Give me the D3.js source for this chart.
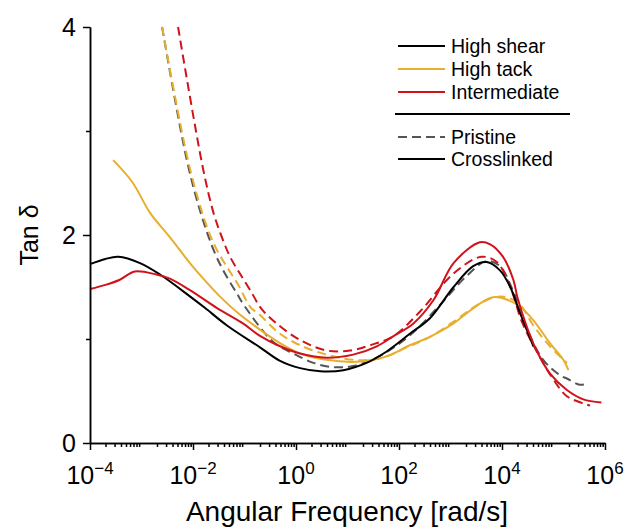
<!DOCTYPE html>
<html>
<head>
<meta charset="utf-8">
<script src="https://cdn.jsdelivr.net/npm/d3@7"></script>
<style>
  body { margin: 0; background: #fff; }
  svg { font-family: 'Liberation Sans', Arial, sans-serif; }
</style>
</head>
<body>
<div id="chart"></div>
<script>
// values: log10 of angular frequency [rad/s], tan delta
var shearCrossLog = [-4, -3.7, -3.45, -3.03, -2.64, -2.06, -1.77, -1.34, -0.7, -0.31, 0.08, 0.47, 0.92, 1.37, 1.76, 2.21, 2.6, 3.06, 3.44, 3.7, 3.96, 4.16, 4.35, 4.61]
var shearCrossTan = [1.72, 1.77, 1.79, 1.73, 1.62, 1.41, 1.30, 1.13, 0.92, 0.79, 0.72, 0.69, 0.70, 0.77, 0.88, 1.05, 1.20, 1.50, 1.70, 1.74, 1.66, 1.50, 1.25, 0.93]

var shearPristLog = [-2.6, -2.12, -1.83, -1.57, -1.38, -1.15, -0.99, -0.44, -0.05, 0.34, 0.72, 1.11, 1.6, 2.2, 2.8, 3.3, 3.7, 3.96, 4.2, 4.5, 4.8, 5.13, 5.26, 5.51, 5.64]
var shearPristTan = [4.0, 2.72, 2.18, 1.82, 1.63, 1.44, 1.31, 0.97, 0.86, 0.77, 0.73, 0.74, 0.83, 1.03, 1.33, 1.60, 1.75, 1.70, 1.48, 1.08, 0.80, 0.65, 0.62, 0.56, 0.57]

var tackCrossLog = [-3.55, -3.18, -2.83, -2.45, -2.06, -1.8, -1.48, -1.15, -0.7, -0.31, 0.08, 0.59, 1.11, 1.5, 1.8, 2.21, 2.6, 3.06, 3.4, 3.8, 4.09, 4.35, 4.61, 4.93, 5.19, 5.29]
var tackCrossTan = [2.72, 2.51, 2.21, 1.98, 1.73, 1.58, 1.41, 1.26, 1.09, 0.96, 0.86, 0.80, 0.78, 0.80, 0.84, 0.94, 1.02, 1.15, 1.28, 1.40, 1.38, 1.31, 1.18, 0.96, 0.80, 0.70]

var tackPristLog = [-2.6, -2.07, -1.73, -1.54, -1.35, -1.12, -0.89, -0.7, -0.31, 0.08, 0.59, 1.11, 1.6, 2.2, 2.6, 3.1, 3.5, 3.85, 4.1, 4.35, 4.61, 4.93, 5.26]
var tackPristTan = [4.0, 2.66, 2.08, 1.86, 1.70, 1.52, 1.31, 1.23, 1.05, 0.94, 0.85, 0.80, 0.81, 0.93, 1.02, 1.18, 1.32, 1.40, 1.40, 1.33, 1.13, 0.93, 0.77]

var interCrossLog = [-4, -3.7, -3.42, -3.13, -2.71, -2.45, -2.06, -1.54, -1.03, -0.7, -0.31, 0.08, 0.59, 1.11, 1.57, 1.9, 2.28, 2.67, 3.06, 3.57, 3.77, 4.02, 4.22, 4.3, 4.48, 4.67, 4.93, 5.26, 5.58, 5.93]
var interCrossTan = [1.48, 1.52, 1.57, 1.65, 1.62, 1.58, 1.47, 1.30, 1.15, 1.03, 0.93, 0.86, 0.82, 0.85, 0.93, 1.03, 1.15, 1.375, 1.73, 1.93, 1.91, 1.79, 1.57, 1.40, 1.12, 0.89, 0.67, 0.51, 0.42, 0.39]

var interPristLog = [-2.29, -1.8, -1.6, -1.44, -1.28, -1.09, -0.89, -0.67, -0.38, 0.08, 0.59, 1.05, 1.44, 1.9, 2.4, 3.06, 3.6, 3.9, 4.16, 4.4, 4.8, 5.0, 5.26, 5.71]
var interPristTan = [4.0, 2.625, 2.21, 1.98, 1.79, 1.63, 1.47, 1.29, 1.15, 0.99, 0.89, 0.89, 0.94, 1.03, 1.26, 1.63, 1.79, 1.74, 1.50, 1.15, 0.77, 0.61, 0.45, 0.36]

var materials = ['High shear', 'High tack', 'Intermediate']
var materialColors = ['#000000', '#E8AE2E', '#D0121B']
var states = ['Pristine', 'Crosslinked']
var xTickExps = [-4, -2, 0, 2, 4, 6]
var yTicks = [0, 2, 4]
var yMinorTicks = [1, 3]

var width = 625
var height = 527

var x = d3.scaleLog().domain([1e-4, 1e6]).range([90, 605])
var y = d3.scaleLinear().domain([0, 4]).range([443, 27])

var svg = d3.select('#chart')
  .append('svg')
  .attr('width', width)
  .attr('height', height)

function zip(lx, ly) {
  return lx.map(function (v, i) { return [Math.pow(10, v), ly[i]] })
}

// dashed = pristine, solid = crosslinked
var series = [
  { pts: zip(shearPristLog, shearPristTan), color: '#555555', dash: '9,5' },
  { pts: zip(tackPristLog, tackPristTan), color: materialColors[1], dash: '9,5' },
  { pts: zip(interPristLog, interPristTan), color: materialColors[2], dash: '9,5' },
  { pts: zip(tackCrossLog, tackCrossTan), color: materialColors[1], dash: null },
  { pts: zip(shearCrossLog, shearCrossTan), color: materialColors[0], dash: null },
  { pts: zip(interCrossLog, interCrossTan), color: materialColors[2], dash: null }
]

var line = d3.line()
  .x(function (d) { return x(d[0]) })
  .y(function (d) { return y(d[1]) })
  .curve(d3.curveCatmullRom.alpha(0.5))

svg.selectAll('.curve')
  .data(series)
  .enter()
  .append('path')
  .attr('class', 'curve')
  .attr('d', function (d) { return line(d.pts) })
  .attr('fill', 'none')
  .attr('stroke', function (d) { return d.color })
  .attr('stroke-width', 2)
  .attr('stroke-dasharray', function (d) { return d.dash })

// x axis: minor ticks then major ticks
var minor = []
for (var e = -4; e < 6; e++) {
  for (var m = 2; m < 10; m++) minor.push(m * Math.pow(10, e))
}
svg.append('g')
  .attr('transform', 'translate(0,443)')
  .call(d3.axisBottom(x).tickValues(minor).tickSize(4).tickFormat('').tickSizeOuter(0))
svg.append('g')
  .attr('transform', 'translate(0,443)')
  .call(d3.axisBottom(x).tickValues(xTickExps.map(function (p) { return Math.pow(10, p) })).tickSize(7).tickFormat('').tickSizeOuter(0))

var xLab = svg.selectAll('.xlab')
  .data(xTickExps)
  .enter()
  .append('text')
  .attr('class', 'xlab')
  .attr('x', function (d) { return x(Math.pow(10, d)) })
  .attr('y', 484)
  .attr('text-anchor', 'middle')
  .attr('font-size', 25)
xLab.append('tspan').text('10')
xLab.append('tspan')
  .attr('dy', -10)
  .attr('font-size', 17)
  .text(function (d) { return d < 0 ? '\u2212' + (-d) : String(d) })

// y axis
svg.append('g')
  .attr('transform', 'translate(90,0)')
  .call(d3.axisLeft(y).tickValues(yMinorTicks).tickSize(4).tickFormat('').tickSizeOuter(0))
svg.append('g')
  .attr('transform', 'translate(90,0)')
  .call(d3.axisLeft(y).tickValues(yTicks).tickSize(7).tickFormat('').tickSizeOuter(0))
svg.selectAll('.domain, .tick line').attr('stroke', '#000').attr('stroke-width', 1.5)

svg.selectAll('.ylab')
  .data(yTicks)
  .enter()
  .append('text')
  .attr('x', 76)
  .attr('y', function (d) { return y(d) + 9 })
  .attr('text-anchor', 'end')
  .attr('font-size', 25)
  .text(function (d) { return d })

svg.append('text')
  .attr('transform', 'translate(38,235) rotate(-90)')
  .attr('text-anchor', 'middle')
  .attr('font-size', 25)
  .text('Tan \u03b4')

svg.append('text')
  .attr('x', 347)
  .attr('y', 521)
  .attr('text-anchor', 'middle')
  .attr('font-size', 28)
  .text('Angular Frequency [rad/s]')

// legend
var legend = svg.append('g')
var legRows = materials.map(function (name, i) {
  return { label: name, color: materialColors[i], dash: null, y: 46 + i * 23 }
})
legRows.push({ label: states[0], color: '#555555', dash: '9,5', y: 137 })
legRows.push({ label: states[1], color: '#000000', dash: null, y: 159 })

legend.selectAll('line.key')
  .data(legRows)
  .enter()
  .append('line')
  .attr('class', 'key')
  .attr('x1', 398).attr('x2', 445)
  .attr('y1', function (d) { return d.y }).attr('y2', function (d) { return d.y })
  .attr('stroke', function (d) { return d.color })
  .attr('stroke-width', 2)
  .attr('stroke-dasharray', function (d) { return d.dash })

legend.selectAll('text')
  .data(legRows)
  .enter()
  .append('text')
  .attr('x', 451)
  .attr('y', function (d) { return d.y + 6.5 })
  .attr('font-size', 19.5)
  .text(function (d) { return d.label })

legend.append('line')
  .attr('x1', 395).attr('x2', 570)
  .attr('y1', 114).attr('y2', 114)
  .attr('stroke', '#000')
  .attr('stroke-width', 2)
</script>
</body>
</html>
